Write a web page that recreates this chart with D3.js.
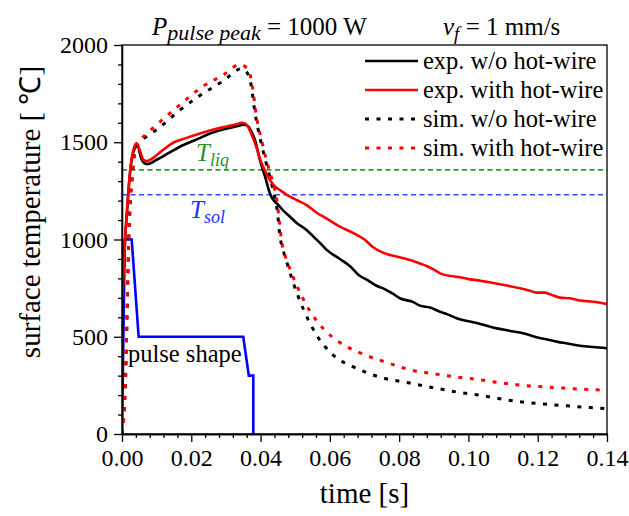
<!DOCTYPE html>
<html><head><meta charset="utf-8">
<script src="https://cdn.jsdelivr.net/npm/d3@7/dist/d3.min.js"></script>
<style>
html,body{margin:0;padding:0;background:#fff;}
svg{display:block;font-family:"Liberation Serif","Times New Roman",serif;}
svg text{font-family:"Liberation Serif","Times New Roman",serif;}
</style></head>
<body><svg id="c" width="629" height="516"></svg>
<script>
// ---------- data (time [s], temperature [°C]) ----------
const xTicks = [0, 0.02, 0.04, 0.06, 0.08, 0.10, 0.12, 0.14];
const yTicks = [0, 500, 1000, 1500, 2000];
const T_liq = 1358;
const T_sol = 1230;

const expNoWire = [[0.0001,680],[0.0009,1000],[0.0016,1180],[0.0023,1340],[0.0033,1450],[0.0045,1482],[0.0055,1420],[0.0065,1392],[0.0075,1388],[0.01,1410],[0.0135,1445],[0.0167,1477],[0.021,1510],[0.0264,1551],[0.030,1570],[0.033,1582],[0.0352,1590],[0.0362,1585],[0.0372,1560],[0.0384,1511],[0.0398,1409],[0.0413,1323],[0.0427,1237],[0.0437,1203],[0.0447,1185],[0.0465,1150],[0.0485,1117],[0.0504,1085],[0.0533,1049],[0.0552,1016],[0.0570,985],[0.059,948],[0.0629,900],[0.0660,860],[0.0685,815],[0.0710,790],[0.0735,762],[0.0754,749],[0.0783,720],[0.0802,698],[0.0841,678],[0.086,660],[0.0889,650],[0.0918,629],[0.0940,615],[0.0966,595],[0.1005,578],[0.1034,566],[0.1082,543],[0.1120,530],[0.1158,518],[0.1197,497],[0.1230,485],[0.1255,475],[0.1290,464],[0.1322,454],[0.1360,447],[0.14,441]];

const expWithWire = [[0.0001,690],[0.0009,1000],[0.0016,1190],[0.0023,1345],[0.0033,1462],[0.0042,1495],[0.0052,1455],[0.0062,1410],[0.0072,1403],[0.009,1420],[0.0118,1460],[0.0150,1500],[0.0182,1520],[0.0225,1545],[0.0264,1565],[0.030,1580],[0.033,1592],[0.0345,1600],[0.0355,1597],[0.0365,1575],[0.0374,1540],[0.0384,1495],[0.0403,1392],[0.0415,1345],[0.0427,1306],[0.0440,1275],[0.0456,1254],[0.0485,1220],[0.0504,1203],[0.0533,1177],[0.0560,1140],[0.059,1109],[0.0629,1066],[0.0668,1033],[0.0700,1000],[0.0725,960],[0.0750,935],[0.0774,920],[0.0810,905],[0.0831,895],[0.0860,877],[0.0879,864],[0.0900,845],[0.0918,826],[0.0950,812],[0.0976,806],[0.1005,795],[0.1034,788],[0.1060,780],[0.1091,770],[0.1120,760],[0.1149,749],[0.1175,738],[0.1197,727],[0.1220,727],[0.1245,712],[0.1264,701],[0.1293,698],[0.1322,686],[0.136,680],[0.14,668]];

const simNoWire = [[0,0],[0.0009,220],[0.0014,560],[0.0018,900],[0.0023,1160],[0.003,1330],[0.0038,1460],[0.0052,1500],[0.0075,1535],[0.01,1565],[0.0167,1665],[0.0225,1740],[0.0292,1815],[0.0345,1878],[0.0360,1860],[0.0372,1800],[0.0384,1650],[0.040,1510],[0.0415,1400],[0.043,1300],[0.0442,1210],[0.0448,1150],[0.0456,1016],[0.0466,940],[0.0476,881],[0.0494,779],[0.0523,644],[0.0562,508],[0.061,405],[0.0668,345],[0.0745,292],[0.0831,262],[0.0899,238],[0.0966,216],[0.1029,200],[0.1139,168],[0.1274,146],[0.14,130]];

const simWithWire = [[0,0],[0.0009,220],[0.0014,560],[0.0018,900],[0.0023,1160],[0.003,1330],[0.0038,1470],[0.0052,1510],[0.0075,1550],[0.01,1590],[0.0167,1692],[0.0225,1777],[0.0292,1846],[0.0341,1900],[0.0358,1885],[0.0368,1860],[0.0376,1790],[0.0389,1623],[0.0403,1510],[0.0418,1400],[0.0435,1295],[0.0448,1190],[0.0455,1080],[0.0461,990],[0.0475,895],[0.0485,847],[0.0533,661],[0.0581,542],[0.0629,470],[0.0697,410],[0.0764,368],[0.0831,330],[0.0899,310],[0.0966,293],[0.1005,285],[0.1139,253],[0.1274,236],[0.14,224]];

const pulseShape = [[0,0],[0.0008,1000],[0.0028,1000],[0.0048,500],[0.035,500],[0.0366,300],[0.0379,300],[0.0379,0]];

const legendLabels = ["exp. w/o hot-wire","exp. with hot-wire","sim. w/o hot-wire","sim. with hot-wire"];

// ---------- layout ----------
const SERIF = "Liberation Serif";
const L = 122, R = 607, T = 45, B = 434;
const svg = d3.select("#c");
const x = d3.scaleLinear().domain([0, 0.14]).range([L, R]);
const y = d3.scaleLinear().domain([0, 2000]).range([B, T]);

svg.append("defs").append("clipPath").attr("id","clip")
  .append("rect").attr("x",L).attr("y",T).attr("width",R-L).attr("height",B-T);

const plot = svg.append("g").attr("clip-path","url(#clip)");

// reference lines
plot.append("line").attr("x1",x(0)).attr("x2",x(0.14)).attr("y1",y(T_liq)).attr("y2",y(T_liq))
  .attr("stroke","#2e9a2e").attr("stroke-width",1.6).attr("stroke-dasharray","5,3.5");
plot.append("line").attr("x1",x(0)).attr("x2",x(0.14)).attr("y1",y(T_sol)).attr("y2",y(T_sol))
  .attr("stroke","#2a4dff").attr("stroke-width",1.6).attr("stroke-dasharray","5,3.5");

const lineLin = d3.line().x(d=>x(d[0])).y(d=>y(d[1]));
const lineSm = d3.line().x(d=>x(d[0])).y(d=>y(d[1])).curve(d3.curveMonotoneX);

plot.append("path").datum(pulseShape).attr("d",lineLin).attr("fill","none")
  .attr("stroke","#0000ff").attr("stroke-width",2.6).attr("stroke-linejoin","miter");

plot.append("path").datum(simNoWire).attr("d",lineSm).attr("fill","none")
  .attr("stroke","#000").attr("stroke-width",3).attr("stroke-dasharray","4,7.5");
plot.append("path").datum(simWithWire).attr("d",lineSm).attr("fill","none")
  .attr("stroke","#ff0000").attr("stroke-width",3).attr("stroke-dasharray","4,7.5");

plot.append("path").datum(expNoWire).attr("d",lineSm).attr("fill","none")
  .attr("stroke","#000").attr("stroke-width",2.6);
plot.append("path").datum(expWithWire).attr("d",lineSm).attr("fill","none")
  .attr("stroke","#ff0000").attr("stroke-width",2.6);

// frame
svg.append("rect").attr("x",L).attr("y",T).attr("width",R-L).attr("height",B-T)
  .attr("fill","none").attr("stroke","#000").attr("stroke-width",1.3);

// axes
const xMinor = d3.range(0, 0.1401, 0.004).filter(v => xTicks.every(t => Math.abs(t - v) > 1e-6));
const yMinor = d3.range(0, 2001, 100).filter(v => v % 500 !== 0);

const gx = svg.append("g").attr("transform",`translate(0,${B})`)
  .call(d3.axisBottom(x).tickValues(xTicks).tickFormat(d3.format(".2f")).tickSize(8).tickSizeOuter(0).tickPadding(7));
svg.append("g").attr("transform",`translate(0,${B})`)
  .call(d3.axisBottom(x).tickValues(xMinor).tickFormat("").tickSize(4).tickSizeOuter(0));
const gy = svg.append("g").attr("transform",`translate(${L},0)`)
  .call(d3.axisLeft(y).tickValues(yTicks).tickFormat(d3.format("d")).tickSize(8).tickSizeOuter(0).tickPadding(6));
svg.append("g").attr("transform",`translate(${L},0)`)
  .call(d3.axisLeft(y).tickValues(yMinor).tickFormat("").tickSize(4).tickSizeOuter(0));

svg.selectAll("g").attr("font-family", SERIF);
svg.selectAll(".tick line").attr("stroke-width",1.3);
svg.selectAll(".domain").attr("stroke-width",1.3);
svg.selectAll(".tick text").style("font-family", SERIF).attr("font-size",24).attr("fill","#000");

// axis titles
svg.append("text").attr("x",(L+R)/2).attr("y",503).attr("text-anchor","middle")
  .attr("font-size",29).text("time [s]");
svg.append("text").attr("transform","translate(40,212) rotate(-90)").attr("text-anchor","middle")
  .attr("font-size",29).text("surface temperature [ ℃]");

// title
const t1 = svg.append("text").attr("x",152).attr("y",35).attr("font-size",25);
t1.append("tspan").attr("font-style","italic").text("P");
t1.append("tspan").attr("font-style","italic").attr("font-size",22).attr("dy",5).text("pulse peak");
t1.append("tspan").attr("dy",-5).text(" = 1000 W");
const t2 = svg.append("text").attr("x",443).attr("y",35).attr("font-size",25);
t2.append("tspan").attr("font-style","italic").text("v");
t2.append("tspan").attr("font-style","italic").attr("font-size",19).attr("dy",5).text("f");
t2.append("tspan").attr("dy",-5).text(" = 1 mm/s");

// T labels
const tl = svg.append("text").attr("x",196).attr("y",161).attr("font-size",25).attr("fill","#2a8f2a").attr("font-style","italic");
tl.append("tspan").text("T");
tl.append("tspan").attr("font-size",18).attr("dy",5).text("liq");
const ts = svg.append("text").attr("x",190).attr("y",218).attr("font-size",25).attr("fill","#2233ff").attr("font-style","italic");
ts.append("tspan").text("T");
ts.append("tspan").attr("font-size",18).attr("dy",5).text("sol");

svg.append("text").attr("x",128).attr("y",362).attr("font-size",24.5).text("pulse shape");

// legend
const legY = [61, 90, 119, 148];
const legStyles = [
  {c:"#000", dash:null, w:2.6},
  {c:"#ff0000", dash:null, w:2.6},
  {c:"#000", dash:"4,7.5", w:3},
  {c:"#ff0000", dash:"4,7.5", w:3}
];
legendLabels.forEach((lab,i)=>{
  const s = legStyles[i];
  svg.append("line").attr("x1",365).attr("x2",418).attr("y1",legY[i]).attr("y2",legY[i])
    .attr("stroke",s.c).attr("stroke-width",s.w).attr("stroke-dasharray",s.dash);
  svg.append("text").attr("x",423).attr("y",legY[i]+8).attr("font-size",24.5).text(lab);
});
</script></body></html>
